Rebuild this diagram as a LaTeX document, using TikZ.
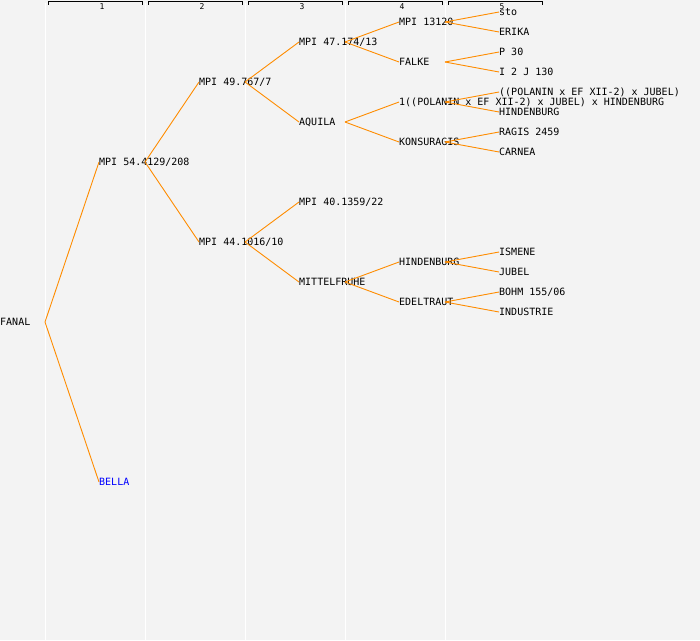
\documentclass[tikz,border=0pt]{standalone}
\usepackage{fontspec}
\newfontfamily\pedfont{DejaVu Sans Mono}
\definecolor{pedbg}{RGB}{243,243,243}
\definecolor{pedline}{RGB}{255,140,0}

\begin{document}
\begin{tikzpicture}[x=1pt,y=-1pt]
\tikzset{horse/.style={anchor=west, inner sep=0pt, text height=7.3pt, text depth=0pt,
    font=\pedfont\fontsize{10}{12}\selectfont},
  gen/.style={inner sep=0pt, font=\pedfont\fontsize{8}{9}\selectfont},
  link/.style={draw=pedline, line width=0.9pt}}
\fill[pedbg] (0,0) rectangle (700,640);
\useasboundingbox (0,0) rectangle (700,640);
\foreach \k in {0,...,4}{
  \coordinate (c\k) at (45+100*\k,0);
  \draw[white, line width=1pt] (45+100*\k,3) -- (45+100*\k,640);
  \draw[line width=0.9pt] (48+100*\k,4.5) -- (48+100*\k,1.5) -- (142+100*\k,1.5) -- (142+100*\k,4.5);
  \pgfmathtruncatemacro\g{\k+1}
  \node[gen] (g\g) at (102+100*\k,6.5) {\g};
}
\node[horse] (fanal) at (0,322) {FANAL};
\node[horse] (s) at (99,162) {MPI 54.4129/208};
\node[horse, text=blue] (d) at (99,482) {BELLA};
\node[horse] (ss) at (199,82) {MPI 49.767/7};
\node[horse] (sd) at (199,242) {MPI 44.1016/10};
\node[horse] (sss) at (299,42) {MPI 47.174/13};
\node[horse] (ssd) at (299,122) {AQUILA};
\node[horse] (sds) at (299,202) {MPI 40.1359/22};
\node[horse] (sdd) at (299,282) {MITTELFRUHE};
\node[horse] (ssss) at (399,22) {MPI 13120};
\node[horse] (sssd) at (399,62) {FALKE};
\node[horse] (ssds) at (399,102) {1((POLANIN x EF XII-2) x JUBEL) x HINDENBURG};
\node[horse] (ssdd) at (399,142) {KONSURAGIS};
\node[horse] (sdds) at (399,262) {HINDENBURG};
\node[horse] (sddd) at (399,302) {EDELTRAUT};
\node[horse] (sssss) at (499,12) {sto};
\node[horse] (ssssd) at (499,32) {ERIKA};
\node[horse] (sssds) at (499,52) {P 30};
\node[horse] (sssdd) at (499,72) {I 2 J 130};
\node[horse] (ssdss) at (499,92) {((POLANIN x EF XII-2) x JUBEL)};
\node[horse] (ssdsd) at (499,112) {HINDENBURG};
\node[horse] (ssdds) at (499,132) {RAGIS 2459};
\node[horse] (ssddd) at (499,152) {CARNEA};
\node[horse] (sddss) at (499,252) {ISMENE};
\node[horse] (sddsd) at (499,272) {JUBEL};
\node[horse] (sddds) at (499,292) {BOHM 155/06};
\node[horse] (sdddd) at (499,312) {INDUSTRIE};
\foreach \p/\c/\k in {fanal/s/0, fanal/d/0, s/ss/1, s/sd/1,
    ss/sss/2, ss/ssd/2, sd/sds/2, sd/sdd/2,
    sss/ssss/3, sss/sssd/3, ssd/ssds/3, ssd/ssdd/3, sdd/sdds/3, sdd/sddd/3,
    ssss/sssss/4, ssss/ssssd/4, sssd/sssds/4, sssd/sssdd/4, ssds/ssdss/4, ssds/ssdsd/4,
    ssdd/ssdds/4, ssdd/ssddd/4, sdds/sddss/4, sdds/sddsd/4, sddd/sddds/4, sddd/sdddd/4}
  \draw[link] (\p.west -| c\k) -- (\c.west);
\end{tikzpicture}
\end{document}
